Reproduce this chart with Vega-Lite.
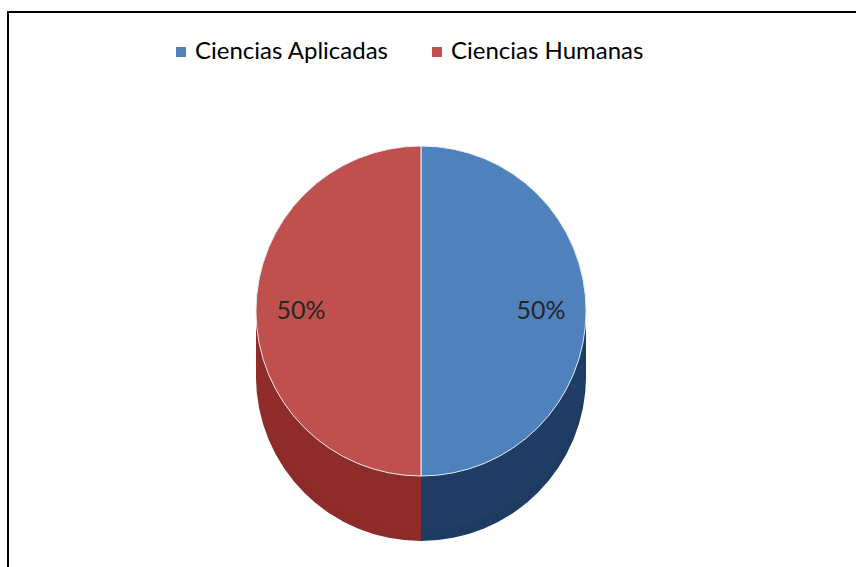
{
  "$schema": "https://vega.github.io/schema/vega-lite/v6.json",
  "width": 860,
  "height": 598,
  "autosize": {"type": "none"},
  "padding": {"left": 8, "top": 12, "right": 0, "bottom": 0},
  "background": "white",
  "view": {"stroke": "#000000", "strokeWidth": 2, "fill": "white"},
  "config": {
    "view": {"stroke": "#000000", "strokeWidth": 2},
    "font": "Lato"
  },
  "data": {
    "values": [
      {"area": "Ciencias Aplicadas", "share": 0.5},
      {"area": "Ciencias Humanas", "share": 0.5}
    ]
  },
  "layer": [
    {
      "mark": {"type": "arc", "outerRadius": 165, "xOffset": -17, "yOffset": 65},
      "encoding": {
        "theta": {"field": "share", "type": "quantitative", "stack": true},
        "color": {"field": "area", "type": "nominal", "scale": {"range": ["#1E3B61", "#8C2B29"]}, "legend": null}
      }
    },
    {
      "mark": {"type": "arc", "outerRadius": 165, "xOffset": -17, "yOffset": 55},
      "encoding": {
        "theta": {"field": "share", "type": "quantitative", "stack": true},
        "color": {"field": "area", "type": "nominal", "scale": {"range": ["#1F3D65", "#8F2C2A"]}, "legend": null}
      }
    },
    {
      "mark": {"type": "arc", "outerRadius": 165, "xOffset": -17, "yOffset": 45},
      "encoding": {
        "theta": {"field": "share", "type": "quantitative", "stack": true},
        "color": {"field": "area", "type": "nominal", "scale": {"range": ["#1F3D65", "#8F2C2A"]}, "legend": null}
      }
    },
    {
      "mark": {"type": "arc", "outerRadius": 165, "xOffset": -17, "yOffset": 35},
      "encoding": {
        "theta": {"field": "share", "type": "quantitative", "stack": true},
        "color": {"field": "area", "type": "nominal", "scale": {"range": ["#1F3D65", "#8F2C2A"]}, "legend": null}
      }
    },
    {
      "mark": {"type": "arc", "outerRadius": 165, "xOffset": -17, "yOffset": 25},
      "encoding": {
        "theta": {"field": "share", "type": "quantitative", "stack": true},
        "color": {"field": "area", "type": "nominal", "scale": {"range": ["#1F3D65", "#8F2C2A"]}, "legend": null}
      }
    },
    {
      "mark": {"type": "arc", "outerRadius": 165, "xOffset": -17, "yOffset": 15},
      "encoding": {
        "theta": {"field": "share", "type": "quantitative", "stack": true},
        "color": {"field": "area", "type": "nominal", "scale": {"range": ["#1F3D65", "#8F2C2A"]}, "legend": null}
      }
    },
    {
      "mark": {"type": "arc", "outerRadius": 165, "xOffset": -17, "yOffset": 5},
      "encoding": {
        "theta": {"field": "share", "type": "quantitative", "stack": true},
        "color": {"field": "area", "type": "nominal", "scale": {"range": ["#1F3D65", "#8F2C2A"]}, "legend": null}
      }
    },
    {
      "mark": {"type": "arc", "outerRadius": 165, "xOffset": -17, "stroke": "#E6ECF4", "strokeWidth": 1},
      "encoding": {
        "theta": {"field": "share", "type": "quantitative", "stack": true},
        "color": {
          "field": "area",
          "type": "nominal",
          "scale": {"range": ["#4F81BD", "#C0504D"]},
          "legend": {
            "title": null,
            "orient": "none",
            "direction": "horizontal",
            "legendX": 161,
            "legendY": 28,
            "symbolType": "square",
            "symbolSize": 100,
            "symbolStrokeWidth": 0,
            "labelFontSize": 24,
            "labelFont": "Lato",
            "labelColor": "#000000",
            "labelOffset": 2,
            "labelLimit": 400,
            "columnPadding": 36,
            "padding": 0
          }
        }
      }
    },
    {
      "mark": {"type": "text", "radius": 120, "xOffset": -17, "fontSize": 25, "font": "Lato", "color": "#262626"},
      "encoding": {
        "theta": {"field": "share", "type": "quantitative", "stack": true},
        "detail": {"field": "area", "type": "nominal"},
        "text": {"field": "share", "type": "quantitative", "format": ".0%"}
      }
    }
  ],
  "resolve": {"scale": {"color": "independent"}}
}
